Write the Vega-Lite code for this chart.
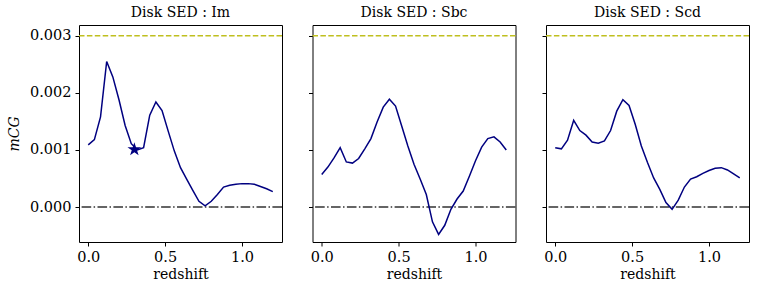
{
  "$schema": "https://vega.github.io/schema/vega-lite/v6.json",
  "background": "white",
  "padding": {"left": 6, "top": 5, "right": 5, "bottom": 5},
  "bounds": "flush",
  "spacing": 30.5,
  "datasets": {
    "curves": [
      {"sed": "Im", "z": 0.00, "m": 0.00109},
      {"sed": "Im", "z": 0.04, "m": 0.00118},
      {"sed": "Im", "z": 0.08, "m": 0.00158},
      {"sed": "Im", "z": 0.12, "m": 0.00255},
      {"sed": "Im", "z": 0.16, "m": 0.00228},
      {"sed": "Im", "z": 0.20, "m": 0.00188},
      {"sed": "Im", "z": 0.24, "m": 0.00143},
      {"sed": "Im", "z": 0.28, "m": 0.00111},
      {"sed": "Im", "z": 0.32, "m": 0.00100},
      {"sed": "Im", "z": 0.36, "m": 0.00104},
      {"sed": "Im", "z": 0.40, "m": 0.00161},
      {"sed": "Im", "z": 0.44, "m": 0.00184},
      {"sed": "Im", "z": 0.48, "m": 0.00169},
      {"sed": "Im", "z": 0.52, "m": 0.00133},
      {"sed": "Im", "z": 0.56, "m": 0.00098},
      {"sed": "Im", "z": 0.60, "m": 0.00069},
      {"sed": "Im", "z": 0.64, "m": 0.00049},
      {"sed": "Im", "z": 0.68, "m": 0.00029},
      {"sed": "Im", "z": 0.72, "m": 0.00010},
      {"sed": "Im", "z": 0.76, "m": 0.00002},
      {"sed": "Im", "z": 0.80, "m": 0.00010},
      {"sed": "Im", "z": 0.84, "m": 0.00022},
      {"sed": "Im", "z": 0.88, "m": 0.00035},
      {"sed": "Im", "z": 0.92, "m": 0.00038},
      {"sed": "Im", "z": 0.96, "m": 0.00040},
      {"sed": "Im", "z": 1.00, "m": 0.00041},
      {"sed": "Im", "z": 1.04, "m": 0.00041},
      {"sed": "Im", "z": 1.08, "m": 0.00040},
      {"sed": "Im", "z": 1.12, "m": 0.00036},
      {"sed": "Im", "z": 1.16, "m": 0.00032},
      {"sed": "Im", "z": 1.20, "m": 0.00027},
      {"sed": "Sbc", "z": 0.00, "m": 0.00057},
      {"sed": "Sbc", "z": 0.04, "m": 0.00070},
      {"sed": "Sbc", "z": 0.08, "m": 0.00086},
      {"sed": "Sbc", "z": 0.12, "m": 0.00104},
      {"sed": "Sbc", "z": 0.16, "m": 0.00079},
      {"sed": "Sbc", "z": 0.20, "m": 0.00077},
      {"sed": "Sbc", "z": 0.24, "m": 0.00085},
      {"sed": "Sbc", "z": 0.28, "m": 0.00102},
      {"sed": "Sbc", "z": 0.32, "m": 0.00120},
      {"sed": "Sbc", "z": 0.36, "m": 0.00149},
      {"sed": "Sbc", "z": 0.40, "m": 0.00175},
      {"sed": "Sbc", "z": 0.44, "m": 0.00189},
      {"sed": "Sbc", "z": 0.48, "m": 0.00177},
      {"sed": "Sbc", "z": 0.52, "m": 0.00142},
      {"sed": "Sbc", "z": 0.56, "m": 0.00107},
      {"sed": "Sbc", "z": 0.60, "m": 0.00075},
      {"sed": "Sbc", "z": 0.64, "m": 0.00049},
      {"sed": "Sbc", "z": 0.68, "m": 0.00022},
      {"sed": "Sbc", "z": 0.72, "m": -0.00026},
      {"sed": "Sbc", "z": 0.76, "m": -0.00048},
      {"sed": "Sbc", "z": 0.80, "m": -0.00032},
      {"sed": "Sbc", "z": 0.84, "m": -0.00004},
      {"sed": "Sbc", "z": 0.88, "m": 0.00014},
      {"sed": "Sbc", "z": 0.92, "m": 0.00028},
      {"sed": "Sbc", "z": 0.96, "m": 0.00054},
      {"sed": "Sbc", "z": 1.00, "m": 0.00081},
      {"sed": "Sbc", "z": 1.04, "m": 0.00105},
      {"sed": "Sbc", "z": 1.08, "m": 0.00120},
      {"sed": "Sbc", "z": 1.12, "m": 0.00123},
      {"sed": "Sbc", "z": 1.16, "m": 0.00114},
      {"sed": "Sbc", "z": 1.20, "m": 0.00100},
      {"sed": "Scd", "z": 0.00, "m": 0.00104},
      {"sed": "Scd", "z": 0.04, "m": 0.00102},
      {"sed": "Scd", "z": 0.08, "m": 0.00117},
      {"sed": "Scd", "z": 0.12, "m": 0.00152},
      {"sed": "Scd", "z": 0.16, "m": 0.00134},
      {"sed": "Scd", "z": 0.20, "m": 0.00126},
      {"sed": "Scd", "z": 0.24, "m": 0.00114},
      {"sed": "Scd", "z": 0.28, "m": 0.00112},
      {"sed": "Scd", "z": 0.32, "m": 0.00116},
      {"sed": "Scd", "z": 0.36, "m": 0.00134},
      {"sed": "Scd", "z": 0.40, "m": 0.00168},
      {"sed": "Scd", "z": 0.44, "m": 0.00188},
      {"sed": "Scd", "z": 0.48, "m": 0.00178},
      {"sed": "Scd", "z": 0.52, "m": 0.00145},
      {"sed": "Scd", "z": 0.56, "m": 0.00107},
      {"sed": "Scd", "z": 0.60, "m": 0.00078},
      {"sed": "Scd", "z": 0.64, "m": 0.00051},
      {"sed": "Scd", "z": 0.68, "m": 0.00031},
      {"sed": "Scd", "z": 0.72, "m": 0.00008},
      {"sed": "Scd", "z": 0.76, "m": -0.00004},
      {"sed": "Scd", "z": 0.80, "m": 0.00012},
      {"sed": "Scd", "z": 0.84, "m": 0.00035},
      {"sed": "Scd", "z": 0.88, "m": 0.00049},
      {"sed": "Scd", "z": 0.92, "m": 0.00053},
      {"sed": "Scd", "z": 0.96, "m": 0.00059},
      {"sed": "Scd", "z": 1.00, "m": 0.00064},
      {"sed": "Scd", "z": 1.04, "m": 0.00068},
      {"sed": "Scd", "z": 1.08, "m": 0.00069},
      {"sed": "Scd", "z": 1.12, "m": 0.00065},
      {"sed": "Scd", "z": 1.16, "m": 0.00058},
      {"sed": "Scd", "z": 1.20, "m": 0.00051}
    ],
    "refs": [
      {"kind": "max", "m": 0.003},
      {"kind": "zero", "m": 0.0}
    ],
    "star": [
      {"z": 0.3, "m": 0.00101}
    ]
  },
  "hconcat": [
    {
      "width": 203,
      "height": 217,
      "title": "Disk SED : Im",
      "layer": [
        {
          "data": {"name": "refs"},
          "transform": [{"filter": "datum.kind === 'max'"}],
          "mark": {"type": "rule", "color": "#bfbf1f", "strokeWidth": 1.5, "strokeDash": [5.5, 2.4]},
          "encoding": {
            "y": {"field": "m", "type": "quantitative", "scale": {"domain": [-0.000613, 0.00319], "nice": false, "zero": false},
              "axis": {"values": [0, 0.001, 0.002, 0.003], "format": ".3f", "title": "mCG", "titleFontStyle": "italic", "titlePadding": 8}}
          }
        },
        {
          "data": {"name": "refs"},
          "transform": [{"filter": "datum.kind === 'zero'"}],
          "mark": {"type": "rule", "color": "#333333", "strokeWidth": 1.5, "strokeDash": [9.6, 2.4, 1.5, 2.4]},
          "encoding": {
            "y": {"field": "m", "type": "quantitative"}
          }
        },
        {
          "data": {"name": "curves"},
          "transform": [{"filter": "datum.sed === 'Im'"}],
          "mark": {"type": "line", "color": "#000080", "strokeWidth": 1.5},
          "encoding": {
            "x": {"field": "z", "type": "quantitative", "scale": {"domain": [-0.06, 1.26], "nice": false, "zero": false},
              "axis": {"values": [0, 0.5, 1.0], "format": ".1f", "title": "redshift"}},
            "y": {"field": "m", "type": "quantitative"}
          }
        },
        {
          "data": {"name": "star"},
          "mark": {"type": "point", "filled": true, "color": "#000080", "opacity": 1, "size": 210,
            "shape": "M0,-1L0.2245,-0.309L0.951,-0.309L0.363,0.118L0.588,0.809L0,0.382L-0.588,0.809L-0.363,0.118L-0.951,-0.309L-0.2245,-0.309Z"},
          "encoding": {
            "x": {"field": "z", "type": "quantitative"},
            "y": {"field": "m", "type": "quantitative"}
          }
        }
      ]
    },
    {
      "width": 203,
      "height": 217,
      "title": "Disk SED : Sbc",
      "layer": [
        {
          "data": {"name": "refs"},
          "transform": [{"filter": "datum.kind === 'max'"}],
          "mark": {"type": "rule", "color": "#bfbf1f", "strokeWidth": 1.5, "strokeDash": [5.5, 2.4]},
          "encoding": {
            "y": {"field": "m", "type": "quantitative", "scale": {"domain": [-0.000613, 0.00319], "nice": false, "zero": false},
              "axis": {"values": [0, 0.001, 0.002, 0.003], "labels": false, "title": null}}
          }
        },
        {
          "data": {"name": "refs"},
          "transform": [{"filter": "datum.kind === 'zero'"}],
          "mark": {"type": "rule", "color": "#333333", "strokeWidth": 1.5, "strokeDash": [9.6, 2.4, 1.5, 2.4]},
          "encoding": {
            "y": {"field": "m", "type": "quantitative"}
          }
        },
        {
          "data": {"name": "curves"},
          "transform": [{"filter": "datum.sed === 'Sbc'"}],
          "mark": {"type": "line", "color": "#000080", "strokeWidth": 1.5},
          "encoding": {
            "x": {"field": "z", "type": "quantitative", "scale": {"domain": [-0.06, 1.26], "nice": false, "zero": false},
              "axis": {"values": [0, 0.5, 1.0], "format": ".1f", "title": "redshift"}},
            "y": {"field": "m", "type": "quantitative"}
          }
        }
      ]
    },
    {
      "width": 203,
      "height": 217,
      "title": "Disk SED : Scd",
      "layer": [
        {
          "data": {"name": "refs"},
          "transform": [{"filter": "datum.kind === 'max'"}],
          "mark": {"type": "rule", "color": "#bfbf1f", "strokeWidth": 1.5, "strokeDash": [5.5, 2.4]},
          "encoding": {
            "y": {"field": "m", "type": "quantitative", "scale": {"domain": [-0.000613, 0.00319], "nice": false, "zero": false},
              "axis": {"values": [0, 0.001, 0.002, 0.003], "labels": false, "title": null}}
          }
        },
        {
          "data": {"name": "refs"},
          "transform": [{"filter": "datum.kind === 'zero'"}],
          "mark": {"type": "rule", "color": "#333333", "strokeWidth": 1.5, "strokeDash": [9.6, 2.4, 1.5, 2.4]},
          "encoding": {
            "y": {"field": "m", "type": "quantitative"}
          }
        },
        {
          "data": {"name": "curves"},
          "transform": [{"filter": "datum.sed === 'Scd'"}],
          "mark": {"type": "line", "color": "#000080", "strokeWidth": 1.5},
          "encoding": {
            "x": {"field": "z", "type": "quantitative", "scale": {"domain": [-0.06, 1.26], "nice": false, "zero": false},
              "axis": {"values": [0, 0.5, 1.0], "format": ".1f", "title": "redshift"}},
            "y": {"field": "m", "type": "quantitative"}
          }
        }
      ]
    }
  ],
  "config": {
    "font": "DejaVu Serif",
    "view": {"stroke": "black", "strokeWidth": 1},
    "axis": {
      "grid": false,
      "domain": false,
      "tickColor": "black",
      "tickSize": 4,
      "labelPadding": 4,
      "labelColor": "black",
      "titleColor": "black",
      "labelFontSize": 14.5,
      "titleFontSize": 14,
      "titleFontWeight": "normal",
      "labelFont": "DejaVu Serif",
      "titleFont": "DejaVu Serif"
    },
    "title": {"fontSize": 14, "fontWeight": "normal", "font": "DejaVu Serif", "offset": 5, "color": "black"}
  }
}
